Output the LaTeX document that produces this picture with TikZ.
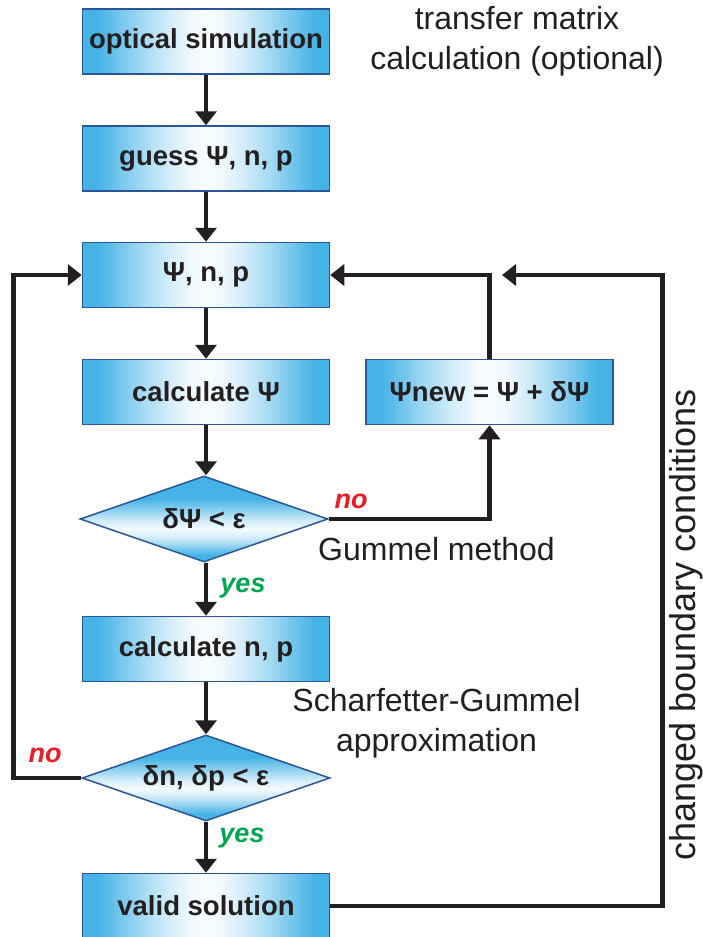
\documentclass[tikz,border=0pt]{standalone}
\usepackage{fontspec}
\setmainfont{Liberation Sans}
\usetikzlibrary{arrows.meta,shapes.geometric}
\definecolor{bl}{HTML}{45B3E6}
\definecolor{bord}{HTML}{2B5597}
\definecolor{ink}{HTML}{231F20}
\definecolor{nored}{HTML}{ED1C24}
\definecolor{yesgreen}{HTML}{00A651}
\pgfdeclarehorizontalshading{boxshade}{100bp}{color(0bp)=(bl); color(28bp)=(bl); color(32bp)=(bl!78!white); color(36bp)=(bl!55!white); color(40bp)=(bl!35!white); color(44bp)=(bl!18!white); color(47bp)=(bl!8!white); color(50bp)=(bl!3!white); color(53bp)=(bl!8!white); color(56bp)=(bl!18!white); color(60bp)=(bl!35!white); color(64bp)=(bl!55!white); color(68bp)=(bl!78!white); color(72bp)=(bl); color(100bp)=(bl)}
\pgfdeclareverticalshading{diashade}{100bp}{color(0bp)=(bl); color(29bp)=(bl); color(34bp)=(bl!60!white); color(39bp)=(bl!25!white); color(44bp)=(bl!6!white); color(49bp)=(bl!25!white); color(55bp)=(bl!60!white); color(62bp)=(bl); color(100bp)=(bl)}
\newcommand\bxfont{\fontsize{27.5}{33}\selectfont\bfseries}
\newcommand\ntfont{\fontsize{32}{40}\selectfont}
\newcommand\rtfont{\fontsize{36}{40}\selectfont}
\newcommand\lbfont{\fontsize{27}{32}\selectfont\bfseries\itshape}
\begin{document}
\begin{tikzpicture}[x=1pt,y=-1pt,
  box/.style={rectangle, draw=bord, line width=1.5pt, shading=boxshade,
    minimum width=247pt, minimum height=65pt, inner sep=0pt, font=\bxfont, text=ink},
  dia/.style={diamond, draw=bord, line width=1.5pt, shading=diashade, aspect=2.88,
    minimum width=248pt, minimum height=86pt, inner sep=0pt, font=\bxfont, text=ink},
  conn/.style={draw=ink, line width=4.5pt},
  arr/.style={conn, -{Triangle[length=14pt,width=21pt]}},
  note/.style={font=\ntfont, text=ink, align=center, inner sep=0pt},
  nolbl/.style={font=\lbfont, text=nored, inner sep=0pt},
  yeslbl/.style={font=\lbfont, text=yesgreen, inner sep=0pt}]
\useasboundingbox (0,0) rectangle (702,937);
% nodes
\node[box] (b1) at (206,41.5) {optical simulation};
\node[box] (b2) at (206,158.5) {guess Ψ, n, p};
\node[box] (b3) at (206,275) {Ψ, n, p};
\node[box] (b4) at (206,392) {calculate Ψ};
\node[box] (bn) at (489.5,392) {Ψnew = Ψ + δΨ};
\node[dia] (d1) at (204,519) {δΨ < ε};
\node[box] (b5) at (206,649) {calculate n, p};
\node[dia] (d2) at (206,778) {δn, δp < ε};
\node[box] (b6) at (206,906) {valid solution};
\coordinate (rtip) at (502,275);
% connectors
\draw[arr] (b1.south) -- (b2.north);
\draw[arr] (b2.south) -- (b3.north);
\draw[arr] (b3.south) -- (b4.north);
\draw[arr] (b4.south) -- (b4.south |- d1.north);
\draw[arr] (d1.south -| b5.north) -- (b5.north);
\draw[arr] (b5.south) -- (d2.north);
\draw[arr] (d2.south) -- (b6.north);
\draw[arr] (d1.east) -| (bn.south);
\draw[arr] (bn.north) |- (b3.east);
\draw[arr] (d2.west) -- ++(-68,0) |- (b3.west);
\draw[arr] (b6.east) -- ++(332,0) |- (rtip);
% labels
\node[nolbl] (n1) at (351,501) {no};
\node[yeslbl] (y1) at (243,588) {yes};
\node[nolbl] (n2) at (45,755) {no};
\node[yeslbl] (y2) at (242,838) {yes};
% notes
\node[note] (t1) at (517,41) {transfer matrix\\calculation (optional)};
\node[note] (t2) at (436.5,549) {Gummel method};
\node[note] (t3) at (436.5,723) {Scharfetter-Gummel\\approximation};
\node[note, font=\rtfont, rotate=90] (t4) at (686,625) {changed boundary conditions};
\end{tikzpicture}
\end{document}
